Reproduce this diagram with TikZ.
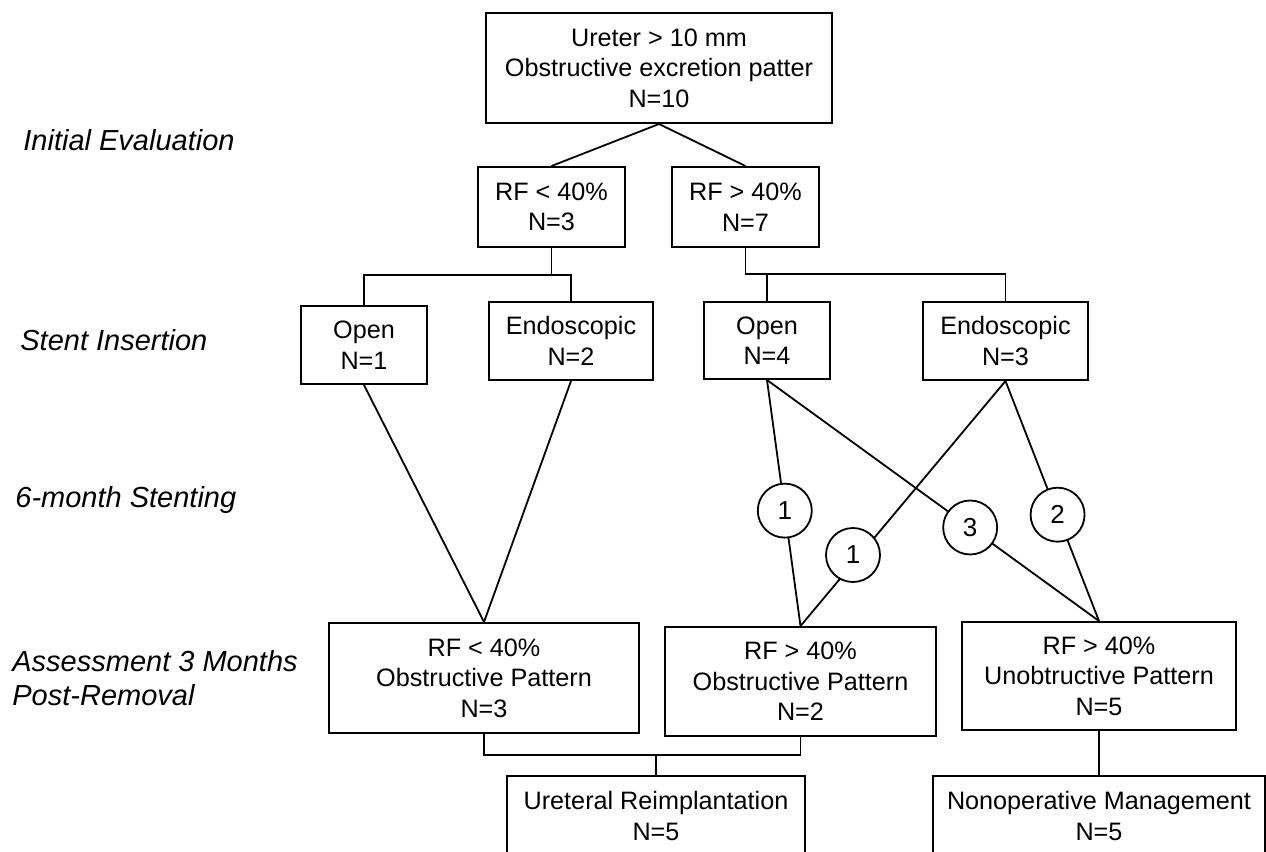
\documentclass[tikz,border=0pt]{standalone}
\usepackage{fontspec}
\setmainfont{Liberation Sans}
\usetikzlibrary{calc}
\begin{document}
\begin{tikzpicture}[x=0.5pt,y=-0.5pt,
  box/.style={draw,line width=1pt,align=center,inner sep=0pt,font=\fontsize{12.6}{15.3}\selectfont},
  conn/.style={line width=0.9pt},
  circ/.style={draw,circle,fill=white,line width=0.9pt,minimum size=27pt,inner sep=0pt,font=\fontsize{13}{15.3}\selectfont},
  lab/.style={anchor=west,align=left,inner sep=0pt,font=\fontsize{14.5}{17}\selectfont\itshape}]
\useasboundingbox (0,0) rectangle (1266,852);
\clip (0,0) rectangle (1266,852);
% stage labels
\node[lab] (l1) at (23,140) {Initial Evaluation};
\node[lab] (l2) at (20,340) {Stent Insertion};
\node[lab] (l3) at (15,500) {6-month Stenting};
\node[lab] (l4) at (12,678) {Assessment 3 Months\\Post-Removal};
% boxes
\node[box,minimum width=173pt,minimum height=55pt] (top) at (659,68) {Ureter > 10 mm\\Obstructive excretion patter\\N=10};
\node[box,minimum width=73.5pt,minimum height=40pt] (rf1) at (551.5,207) {RF < 40\%\\N=3};
\node[box,minimum width=73.5pt,minimum height=40pt] (rf2) at (745.5,207) {RF > 40\%\\N=7};
\node[box,minimum width=63pt,minimum height=39pt] (open1) at (364,345) {Open\\N=1};
\node[box,minimum width=82pt,minimum height=39pt] (endo1) at (571,341) {Endoscopic\\N=2};
\node[box,minimum width=63pt,minimum height=38.5pt] (open2) at (767,340.5) {Open\\N=4};
\node[box,minimum width=82.5pt,minimum height=39pt] (endo2) at (1005.5,341) {Endoscopic\\N=3};
\node[box,minimum width=155pt,minimum height=55pt] (obs1) at (484,678) {RF < 40\%\\Obstructive Pattern\\N=3};
\node[box,minimum width=135.5pt,minimum height=54.5pt] (obs2) at (800.5,681.5) {RF > 40\%\\Obstructive Pattern\\N=2};
\node[box,minimum width=137pt,minimum height=54pt] (unobs) at (1099,676) {RF > 40\%\\Unobtructive Pattern\\N=5};
\node[box,minimum width=149pt,minimum height=40pt] (urt) at (656,816) {Ureteral Reimplantation\\N=5};
\node[box,minimum width=166pt,minimum height=40pt] (nonop) at (1099,816) {Nonoperative Management\\N=5};
% connectors
\draw[conn] (top.south) -- (rf1.north);
\draw[conn] (top.south) -- (rf2.north);
\coordinate (j1) at (551.5,275);
\coordinate (j2) at (745.5,274);
\draw[conn] (rf1.south) -- (j1) -| (open1.north);
\draw[conn] (j1) -| (endo1.north);
\draw[conn] (rf2.south) -- (j2) -| (open2.north);
\draw[conn] (j2) -| (endo2.north);
\draw[conn] (open1.south) -- (obs1.north);
\draw[conn] (endo1.south) -- (obs1.north);
\draw[conn] (open2.south) -- (obs2.north);
\draw[conn] (open2.south) -- (unobs.north);
\draw[conn] (endo2.south) -- (obs2.north);
\draw[conn] (endo2.south) -- (unobs.north);
\node[circ] (cA) at ($(open2.south)!0.531!(obs2.north)$) {1};
\node[circ] (cC) at ($(open2.south)!0.612!(unobs.north)$) {3};
\node[circ] (cB) at (853,555) {1};
\node[circ] (cD) at ($(endo2.south)!0.557!(unobs.north)$) {2};
\coordinate (j3) at (656,755);
\draw[conn] (obs1.south) |- (j3);
\draw[conn] (obs2.south) |- (j3);
\draw[conn] (j3) -- (urt.north);
\draw[conn] (unobs.south) -- (nonop.north);
\end{tikzpicture}
\end{document}
